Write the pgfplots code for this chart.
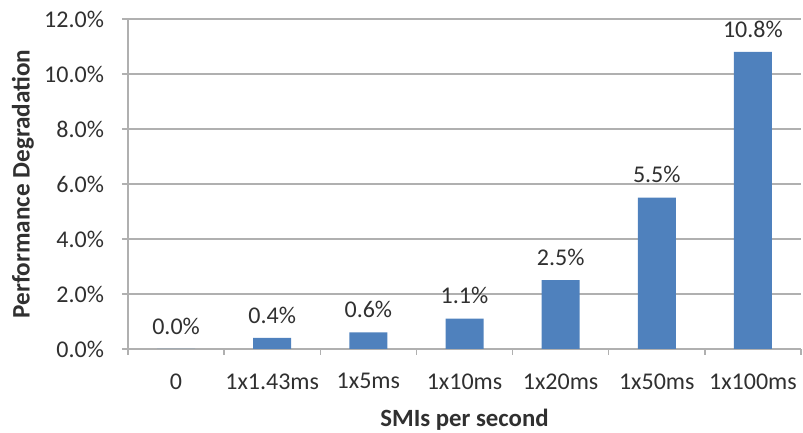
\documentclass[border=0pt]{standalone}
\usepackage{fontspec}
\setmainfont{Carlito}
\usepackage{pgfplots}
\pgfplotsset{compat=1.18}
\definecolor{barblue}{HTML}{4F81BD}
\definecolor{gridgray}{HTML}{B0B0B0}
\definecolor{textgray}{HTML}{303030}
\newcommand{\lbl}{\fontsize{12}{14}\selectfont}
\begin{document}
\begin{tikzpicture}
\begin{axis}[
  at={(0,0)}, anchor=south west,
  scale only axis, width=336.5pt, height=165pt,
  xmin=-0.5, xmax=6.5, ymin=0, ymax=12,
  axis lines*=left,
  axis line style={gridgray, line width=0.7pt},
  ybar, bar width=19pt,
  ytick={0,2,...,12},
  ymajorgrids, grid style={gridgray, line width=0.7pt},
  yticklabel={\pgfmathprintnumber[fixed,fixed zerofill,precision=1]{\tick}\%},
  xtick={0,...,6},
  xticklabels={0,1x1.43ms,1x5ms,1x10ms,1x20ms,1x50ms,1x100ms},
  minor xtick={-0.5,0.5,...,6.5},
  major x tick style={draw=none},
  tick align=outside,
  major tick length=3pt, minor tick length=3pt,
  tick style={gridgray, line width=0.7pt},
  /pgf/number format/assume math mode=true,
  tick label style={font=\lbl, text=textgray},
  xticklabel style={yshift=-5.7pt},
  yticklabel style={xshift=-5.5pt},
  every axis y label/.style={at={(axis description cs:-0.156,0.5)}, rotate=90, anchor=center},
  every axis x label/.style={at={(axis description cs:0.5,-0.215)}, anchor=center},
  ylabel={\bfseries\fontsize{12.6}{14}\selectfont Performance Degradation},
  xlabel={\bfseries\fontsize{12.4}{14}\selectfont SMIs per second},
  label style={text=textgray},
  nodes near coords={\pgfmathprintnumber[fixed,fixed zerofill,precision=1]{\pgfplotspointmeta}\%},
  nodes near coords style={font=\lbl, text=textgray, anchor=center, yshift=11.5pt},
  clip=false,
]
\addplot[fill=barblue, draw=none] coordinates {
  (0,0.0) (1,0.4) (2,0.6) (3,1.1) (4,2.5) (5,5.5) (6,10.8)
};
\end{axis}
% fixed page frame around the plot area
\pgfresetboundingbox
\path (-64pt,-42pt) rectangle (337.5pt,174.5pt);
\end{tikzpicture}
\end{document}
